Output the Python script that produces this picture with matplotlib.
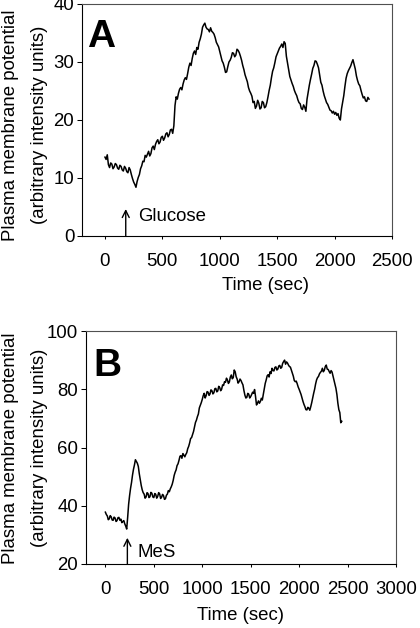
import numpy as np
import matplotlib
matplotlib.use("Agg")
import matplotlib.pyplot as plt

# =====================
# data
# =====================
# panel A: glucose added, one reading every 10 s from 0 to 2300 s
time_a = np.arange(0, 2301, 10)
signal_a = [
    13.6, 13.2, 14.0, 12.3, 11.8, 12.6, 12.4, 11.6, 11.9, 12.5,
    12.3, 11.7, 11.5, 12.2, 12.0, 11.4, 11.2, 12.0, 11.7, 11.1,
    10.9, 11.8, 11.4, 10.6, 9.9, 9.3, 8.9, 8.4, 9.4, 10.1,
    10.6, 11.6, 12.1, 12.9, 12.8, 13.9, 13.6, 14.1, 14.6, 13.8,
    14.2, 15.2, 15.5, 14.9, 15.8, 16.3, 16.6, 15.9, 16.2, 17.0,
    17.2, 16.5, 16.9, 17.6, 17.8, 17.1, 17.5, 18.3, 18.4, 17.7,
    19.0, 22.5, 24.0, 23.6, 24.6, 25.3, 25.6, 25.2, 26.2, 26.9,
    27.3, 27.0, 28.0, 29.1, 29.8, 29.4, 30.6, 31.5, 31.9, 31.3,
    32.5, 32.2, 33.4, 34.0, 34.8, 36.0, 36.4, 36.7, 36.0, 35.7,
    35.6, 35.2, 35.9, 35.3, 35.1, 34.8, 34.2, 33.4, 33.0, 32.6,
    31.8, 31.0, 30.2, 29.8, 29.1, 28.2, 28.3, 29.2, 30.0, 30.3,
    30.8, 31.6, 31.5, 30.9, 31.2, 32.2, 32.0, 31.6, 31.0, 30.3,
    29.4, 28.7, 27.8, 27.2, 26.6, 25.6, 25.0, 24.6, 24.1, 23.0,
    23.2, 22.0, 22.4, 23.4, 22.9, 21.9, 22.1, 23.2, 23.0, 22.1,
    22.3, 23.0, 24.0, 25.1, 26.0, 27.3, 28.4, 29.0, 29.9, 30.9,
    31.4, 31.9, 32.4, 32.7, 33.1, 32.5, 33.5, 33.2, 31.0, 29.8,
    28.6, 27.5, 26.9, 26.3, 25.8, 25.1, 24.6, 24.2, 23.5, 23.0,
    22.8, 22.0, 21.8, 22.6, 22.2, 21.5, 23.6, 24.8, 26.0, 27.0,
    27.9, 28.9, 29.4, 30.2, 30.1, 29.6, 29.0, 27.8, 26.5, 26.0,
    25.0, 24.2, 23.6, 23.0, 22.7, 22.2, 21.7, 21.6, 21.2, 21.5,
    21.0, 21.3, 20.8, 21.1, 20.3, 20.0, 21.9, 23.1, 24.2, 25.8,
    27.2, 28.0, 28.5, 28.9, 29.3, 29.9, 30.4, 29.6, 28.8, 27.6,
    26.8, 26.2, 25.9, 25.1, 24.4, 23.8, 24.0, 23.3, 23.2, 23.9,
    23.6,
]

# panel B: MeS added, one reading every 10 s from 0 to 2440 s
time_b = np.arange(0, 2441, 10)
signal_b = [
    37.8, 37.0, 36.5, 35.2, 35.5, 36.6, 36.2, 35.1, 35.0, 36.1,
    35.8, 34.6, 34.9, 35.9, 36.0, 35.0, 35.4, 34.2, 34.6, 34.9,
    33.8, 33.0, 32.0, 36.0, 40.5, 43.5, 46.0, 48.0, 50.5, 52.5,
    54.0, 55.8, 55.2, 54.6, 53.5, 51.0, 49.0, 47.0, 45.5, 44.5,
    44.0, 42.6, 43.0, 44.5, 44.2, 42.8, 43.1, 44.6, 44.3, 43.0,
    42.8, 44.2, 43.9, 42.6, 43.2, 44.5, 44.1, 42.5, 42.9, 43.9,
    43.5, 42.2, 42.4, 43.6, 44.0, 45.2, 44.8, 45.8, 46.5, 47.4,
    48.7, 50.4, 51.5, 52.3, 53.8, 54.4, 55.6, 57.0, 57.2, 56.3,
    57.9, 57.4, 56.8, 57.6, 58.2, 59.6, 60.4, 61.6, 63.1, 63.4,
    64.5, 65.5, 67.0, 68.6, 69.4, 70.6, 71.5, 73.6, 74.5, 75.4,
    76.5, 77.8, 78.6, 77.0, 77.8, 79.2, 79.0, 77.9, 78.4, 79.8,
    79.5, 78.4, 78.8, 80.2, 80.3, 79.1, 79.4, 81.0, 80.6, 79.5,
    80.0, 81.5, 81.3, 82.6, 82.4, 83.8, 83.2, 82.0, 82.5, 84.2,
    84.9, 83.6, 84.0, 86.6, 86.0, 84.3, 83.5, 82.1, 82.6, 83.5,
    83.0, 82.2, 81.5, 79.6, 78.0, 77.0, 77.2, 78.6, 78.3, 77.0,
    77.5, 78.2, 79.0, 78.6, 79.9, 77.5, 74.6, 75.2, 76.0, 75.2,
    75.8, 76.9, 76.3, 78.2, 80.0, 82.0, 83.2, 84.6, 85.0, 84.2,
    86.0, 85.4, 87.2, 86.4, 86.3, 87.5, 87.7, 86.6, 86.9, 88.0,
    88.2, 87.2, 87.5, 88.9, 89.5, 90.0, 88.6, 89.4, 89.0, 88.3,
    87.8, 87.6, 86.6, 85.6, 84.5, 83.0, 82.6, 82.8, 81.9, 80.8,
    80.0, 79.1, 78.2, 77.0, 75.8, 74.8, 74.0, 73.0, 72.9, 73.8,
    73.5, 72.8, 74.0, 75.4, 77.0, 78.6, 80.0, 81.8, 83.2, 84.0,
    84.4, 85.3, 85.8, 86.2, 87.2, 86.0, 86.5, 87.8, 88.3, 86.9,
    86.8, 86.1, 85.5, 86.4, 85.9, 84.5, 83.0, 81.8, 80.3, 78.2,
    75.2, 73.0, 72.0, 68.5, 69.0,
]

xticks_a = [0, 500, 1000, 1500, 2000, 2500]
yticks_a = [0, 10, 20, 30, 40]
xticks_b = [0, 500, 1000, 1500, 2000, 2500, 3000]
yticks_b = [20, 40, 60, 80, 100]

FS = 13.4
plt.rcParams["font.family"] = ["Liberation Sans", "DejaVu Sans"]

fig = plt.figure(figsize=(4.2, 6.28), dpi=100)
ax_a = fig.add_axes([82 / 420, 1 - 236 / 628, 310 / 420, 232 / 628])
ax_b = fig.add_axes([86 / 420, 1 - 564 / 628, 310 / 420, 233 / 628])


def style(ax, xlim, ylim, xticks, yticks):
    ax.set_xlim(*xlim)
    ax.set_ylim(*ylim)
    ax.set_xticks(xticks)
    ax.set_yticks(yticks)
    ax.tick_params(axis="x", direction="out", length=2.2, width=0.75,
                   pad=10, labelsize=FS)
    ax.tick_params(axis="y", direction="out", length=3.5, width=0.75,
                   pad=2, labelsize=FS)
    for side in ["left", "bottom"]:
        ax.spines[side].set_color("black")
        ax.spines[side].set_linewidth(0.8)
    for side in ["top", "right"]:
        ax.spines[side].set_color("#505050")
        ax.spines[side].set_linewidth(0.8)


arrow = dict(arrowstyle="->,head_length=0.5,head_width=0.25",
             lw=1, color="black", shrinkA=0, shrinkB=0)

ax_a.plot(time_a, signal_a, color="black", lw=1.1)
style(ax_a, (-200, 2500), (0, 40), xticks_a, yticks_a)
ax_a.annotate("", xy=(181, 4.65), xytext=(181, 0), arrowprops=arrow)
ax_a.text(286, 3.3, "Glucose", fontsize=FS, va="center", ha="left")

ax_b.plot(time_b, signal_b, color="black", lw=1.1)
style(ax_b, (-200, 3000), (20, 100), xticks_b, yticks_b)
ax_b.annotate("", xy=(227, 29), xytext=(227, 20), arrowprops=arrow)
ax_b.text(327, 24, "MeS", fontsize=FS, va="center", ha="left")

# panel letters
fig.text(87 / 420, 1 - 47 / 628, "A", fontsize=28, fontweight="bold",
         ha="left", va="baseline")
fig.text(93 / 420, 1 - 376 / 628, "B", fontsize=28, fontweight="bold",
         ha="left", va="baseline")

# axis titles
for yc in [1 - 125 / 628, 1 - 448 / 628]:
    fig.text(10.8 / 420, yc, "Plasma membrane potential", fontsize=FS,
             rotation=90, ha="center", va="center")
    fig.text(39.2 / 420, yc, "(arbitrary intensity units)", fontsize=FS,
             rotation=90, ha="center", va="center")
fig.text(265 / 420, 1 - 286 / 628, "Time (sec)", fontsize=FS,
         ha="center", va="center")
fig.text(241 / 420, 1 - 615 / 628, "Time (sec)", fontsize=FS,
         ha="center", va="center")

fig.savefig("out.png", dpi=100)
